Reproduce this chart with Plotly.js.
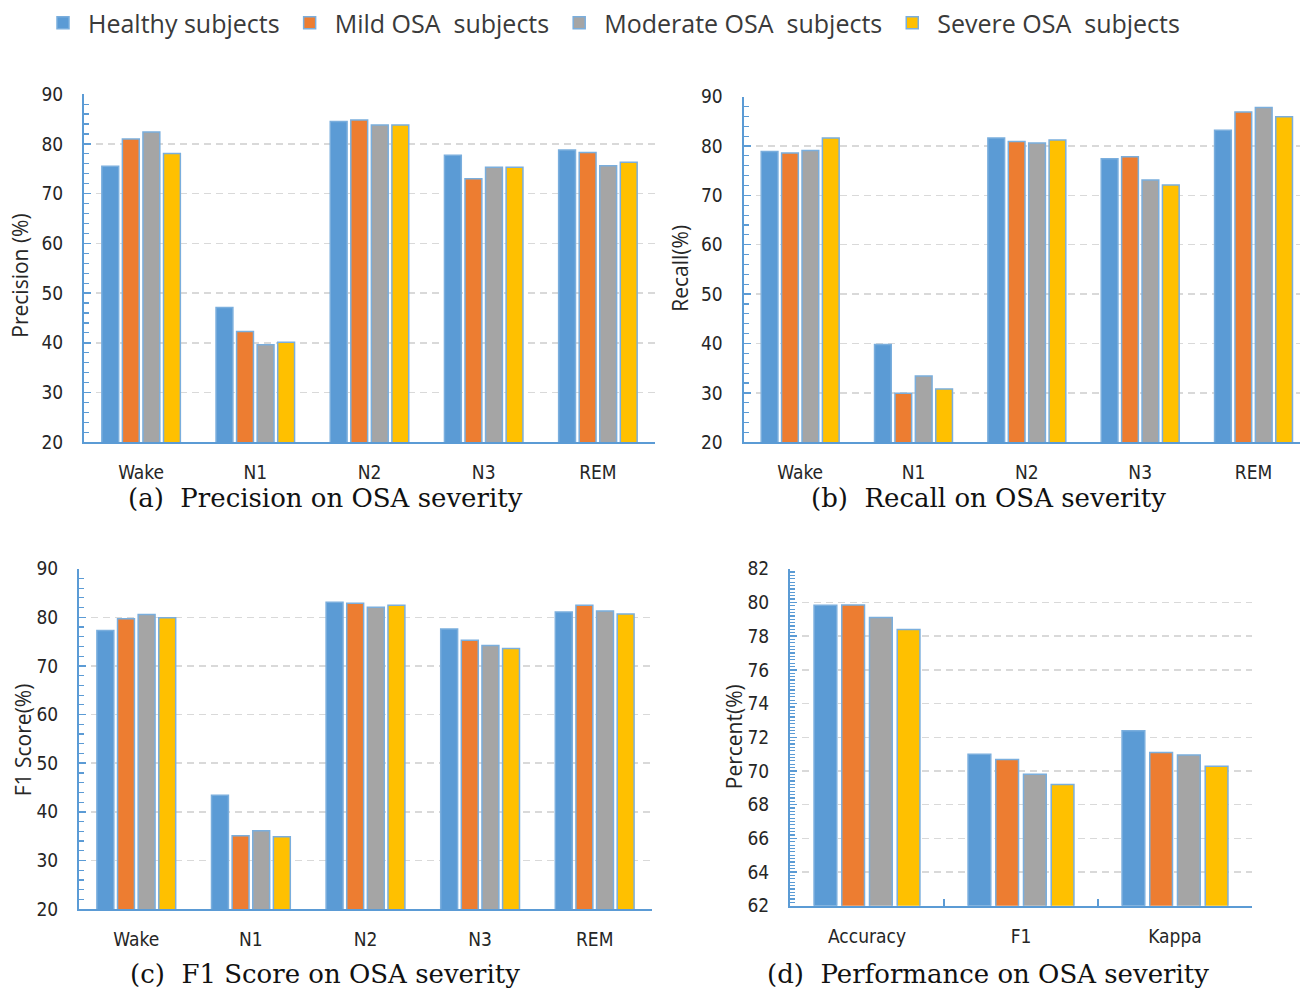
<!DOCTYPE html>
<html>
<head>
<meta charset="utf-8">
<script src="https://cdn.plot.ly/plotly-3.0.1.min.js"></script>
<style>
  html, body { margin: 0; padding: 0; background: #ffffff; }
  #chart { width: 1300px; height: 990px; }
</style>
</head>
<body>
<div id="chart"></div>
<script>
// Sleep stages and overall metrics
const stages = ['Wake', 'N1', 'N2', 'N3', 'REM'];
const overallMetrics = ['Accuracy', 'F1', 'Kappa'];

// Subject groups (legend labels)
const groupNames = ['Healthy subjects', 'Mild OSA\u00a0 subjects', 'Moderate OSA\u00a0 subjects', 'Severe OSA\u00a0 subjects'];

// (a) Precision per stage (%)
const precisionHealthy  = [75.5, 47.1, 84.5, 77.7, 78.8];
const precisionMild     = [81.0, 42.3, 84.8, 73.0, 78.3];
const precisionModerate = [82.4, 39.6, 83.8, 75.3, 75.6];
const precisionSevere   = [78.1, 40.1, 83.8, 75.3, 76.3];

// (b) Recall per stage (%)
const recallHealthy  = [78.9, 39.8, 81.6, 77.4, 83.2];
const recallMild     = [78.6, 29.9, 80.9, 77.8, 86.9];
const recallModerate = [79.1, 33.4, 80.6, 73.1, 87.8];
const recallSevere   = [81.6, 30.8, 81.2, 72.1, 85.9];

// (c) F1 score per stage (%)
const f1Healthy  = [77.3, 43.4, 83.1, 77.6, 81.1];
const f1Mild     = [79.7, 35.1, 82.9, 75.3, 82.5];
const f1Moderate = [80.6, 36.1, 82.1, 74.2, 81.3];
const f1Severe   = [79.9, 34.9, 82.5, 73.6, 80.7];

// (d) Overall performance (%)
const overallHealthy  = [79.83, 70.99, 72.38];
const overallMild     = [79.85, 70.68, 71.10];
const overallModerate = [79.10, 69.80, 70.94];
const overallSevere   = [78.40, 69.20, 70.28];

// Styling
const groupColors = ['#5B9BD5', '#ED7D31', '#A5A5A5', '#FFC000'];
const AXIS = '#5B9BD5';
const BAR_EDGE = '#7AAEDD';
const TICK_FONT = 'Liberation Sans Narrow, DejaVu Sans Condensed, Arial Narrow, sans-serif';
const TITLE_FONT = 'Open Sans, sans-serif';
const CAPTION_FONT = 'DejaVu Serif, serif';

const panels = [
  { cats: stages, series: [precisionHealthy, precisionMild, precisionModerate, precisionSevere] },
  { cats: stages, series: [recallHealthy, recallMild, recallModerate, recallSevere] },
  { cats: stages, series: [f1Healthy, f1Mild, f1Moderate, f1Severe] },
  { cats: overallMetrics, series: [overallHealthy, overallMild, overallModerate, overallSevere] }
];

const traces = [];
panels.forEach((p, i) => {
  const suffix = i === 0 ? '' : String(i + 1);
  p.series.forEach((vals, s) => {
    traces.push({
      type: 'bar',
      x: p.cats,
      y: vals,
      name: groupNames[s],
      legendgroup: 'g' + s,
      showlegend: i === 0,
      xaxis: 'x' + suffix,
      yaxis: 'y' + suffix,
      marker: { color: groupColors[s], line: { color: BAR_EDGE, width: 1.5 } },
      hoverinfo: 'skip'
    });
  });
});

function yAxis(domain, range, dtick, minorDtick, anchor) {
  return {
    domain: domain, range: range, dtick: dtick, tick0: range[0], anchor: anchor,
    showline: true, linecolor: AXIS, linewidth: 2,
    ticks: 'inside', ticklen: 7, tickwidth: 1.5, tickcolor: AXIS,
    showgrid: true, gridcolor: '#D9D9D9', gridwidth: 1.5, griddash: '7px,5px',
    zeroline: false, fixedrange: true,
    tickfont: { family: TICK_FONT, size: 19, color: '#262626' },
    ticklabelstandoff: 15,
    minor: { dtick: minorDtick, tick0: range[0], ticks: 'inside', ticklen: 5, tickwidth: 1.2, tickcolor: AXIS, showgrid: false }
  };
}

function xAxis(domain, range, anchor, boundaryTicks) {
  const ax = {
    domain: domain, range: range, anchor: anchor, type: 'category',
    showline: true, linecolor: AXIS, linewidth: 2,
    showgrid: false, zeroline: false, fixedrange: true,
    tickfont: { family: TICK_FONT, size: 19, color: '#262626' },
    ticklabelstandoff: 12,
    ticks: ''
  };
  if (boundaryTicks) {
    ax.ticks = 'inside';
    ax.tickson = 'boundaries';
    ax.ticklen = 7;
    ax.tickwidth = 1.5;
    ax.tickcolor = AXIS;
  }
  return ax;
}

const W = 1300, H = 990;
const px = v => v / W;
const py = v => (H - v) / H;

const layout = {
  width: W, height: H,
  margin: { l: 0, r: 0, t: 0, b: 0 },
  paper_bgcolor: '#ffffff', plot_bgcolor: '#ffffff',
  barmode: 'group', bargap: 0.28, bargroupgap: 0.18,
  showlegend: true,
  legend: {
    orientation: 'h', x: px(38), y: py(22), xanchor: 'left', yanchor: 'middle',
    font: { family: TITLE_FONT, size: 25, color: '#3a3a3a' },
    itemwidth: 40, traceorder: 'normal'
  },
  xaxis:  xAxis([px(84), px(655)], [-0.5, 4.5], 'y', false),
  yaxis:  yAxis([py(441.7), py(93.3)], [20, 90], 10, 2, 'x'),
  xaxis2: xAxis([px(743.5), 1], [-0.5, 4.41], 'y2', false),
  yaxis2: yAxis([py(441.7), py(95.7)], [20, 90], 10, 2, 'x2'),
  xaxis3: xAxis([px(79), px(652)], [-0.5, 4.5], 'y3', false),
  yaxis3: yAxis([py(909), py(568.3)], [20, 90], 10, 2, 'x3'),
  xaxis4: xAxis([px(790), px(1252)], [-0.5, 2.5], 'y4', true),
  yaxis4: yAxis([py(905.7), py(568.3)], [62, 82], 2, 0.2, 'x4'),
  annotations: [
    // axis titles
    { text: 'Precision (%)', x: px(20), y: py(275), textangle: -90 },
    { text: 'Recall(%)', x: px(680), y: py(268), textangle: -90 },
    { text: 'F1 Score(%)', x: px(23), y: py(740), textangle: -90 },
    { text: 'Percent(%)', x: px(734), y: py(737), textangle: -90 }
  ].map(a => Object.assign({
    xref: 'paper', yref: 'paper', showarrow: false, xanchor: 'center', yanchor: 'middle',
    font: { family: TITLE_FONT, size: 21, color: '#262626' }
  }, a)).concat([
    // panel captions
    { text: '(a)\u00a0 Precision on OSA severity', x: px(325), y: py(498), yanchor: 'middle' },
    { text: '(b)\u00a0 Recall on OSA severity', x: px(988), y: py(498), yanchor: 'middle' },
    { text: '(c)\u00a0 F1 Score on OSA severity', x: px(325), y: 0, yanchor: 'bottom' },
    { text: '(d)\u00a0 Performance on OSA severity', x: px(988), y: 0, yanchor: 'bottom' }
  ].map(a => Object.assign({
    xref: 'paper', yref: 'paper', showarrow: false, xanchor: 'center', borderpad: 0,
    font: { family: CAPTION_FONT, size: 26, color: '#111111' }
  }, a)))
};

Plotly.newPlot('chart', traces, layout, { displayModeBar: false, staticPlot: true });
</script>
</body>
</html>
